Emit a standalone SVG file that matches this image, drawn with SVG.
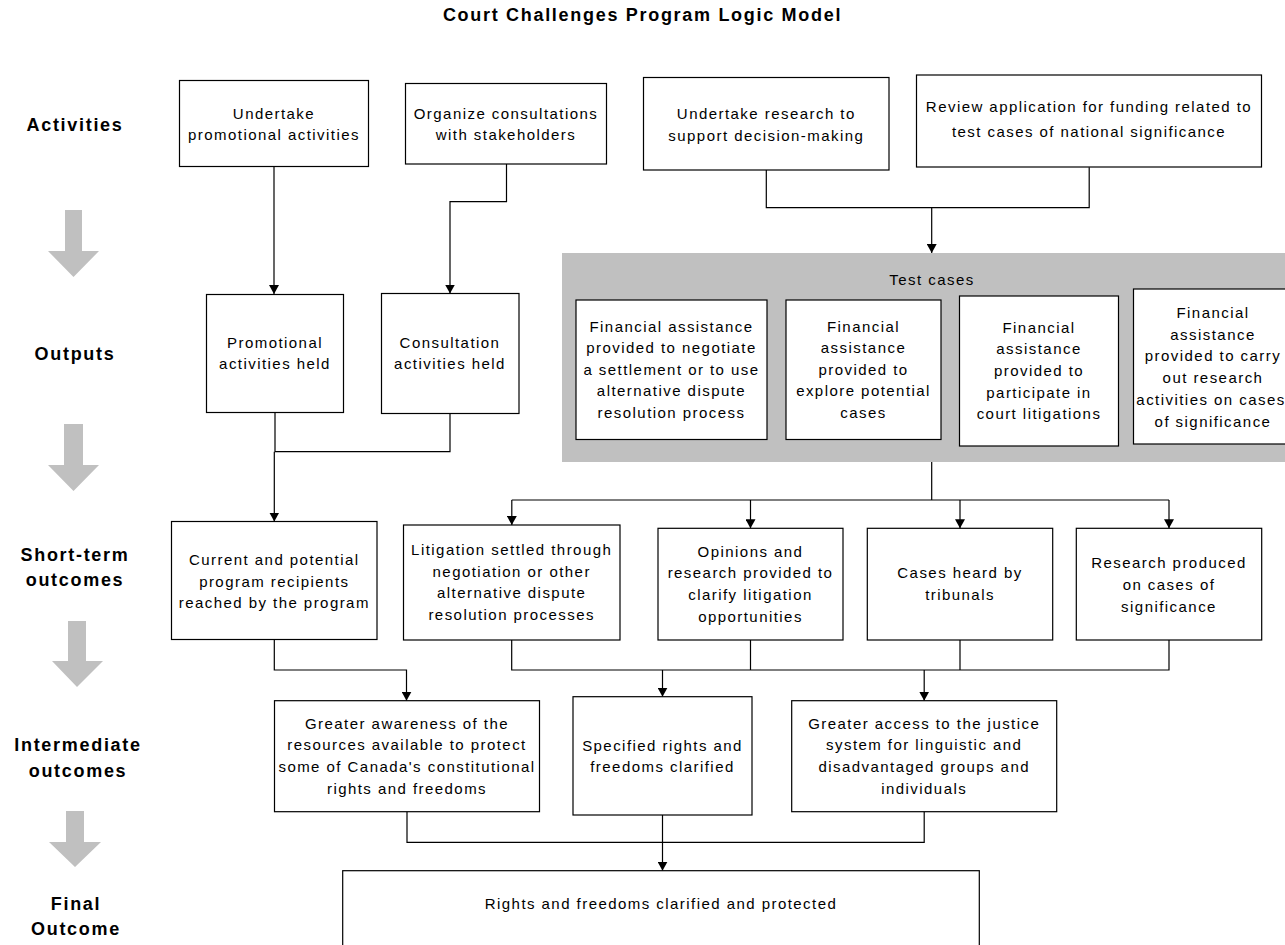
<svg xmlns="http://www.w3.org/2000/svg" width="1285" height="945" viewBox="0 0 1285 945">
<style>
.t{font-family:"Liberation Sans",Arial,sans-serif;font-size:15px;letter-spacing:1.45px;fill:#000;text-anchor:middle}
.lbl{font-family:"Liberation Sans",Arial,sans-serif;font-size:18px;font-weight:bold;letter-spacing:1.7px;fill:#000;text-anchor:middle}
.box{fill:#fff;stroke:#000;stroke-width:1.2}
.con{fill:none;stroke:#000;stroke-width:1.2}
.arr{fill:none;stroke:#000;stroke-width:1.2;marker-end:url(#ah)}
.big{fill:#c0c0c0}
</style>
<defs>
<marker id="ah" viewBox="0 0 9 10" refX="9" refY="5" markerWidth="9" markerHeight="10" markerUnits="userSpaceOnUse" orient="auto">
<path d="M0,0 L9,5 L0,10 z" fill="#000"/>
</marker>
</defs>
<rect width="1285" height="945" fill="#fff"/>
<text class="lbl" x="642.5" y="21">Court Challenges Program Logic Model</text>

<g id="stage-labels">
<text class="lbl" x="75" y="131">Activities</text>
<text class="lbl" x="75" y="360">Outputs</text>
<text class="lbl" x="75" y="561">Short-term</text>
<text class="lbl" x="75" y="586">outcomes</text>
<text class="lbl" x="78" y="751">Intermediate</text>
<text class="lbl" x="78" y="777">outcomes</text>
<text class="lbl" x="76" y="910">Final</text>
<text class="lbl" x="76" y="935">Outcome</text>
</g>

<g id="stage-arrows">
<polygon class="big" points="65,210 82,210 82,251 99,251 73.5,277 48,251 65,251"/>
<polygon class="big" points="64,424 83,424 83,465 99,465 73.5,491 48,465 64,465"/>
<polygon class="big" points="68,621 86,621 86,661 103,661 77,687 52,661 68,661"/>
<polygon class="big" points="66,811 84,811 84,842 101,842 75,867 49,842 66,842"/>
</g>

<g id="test-cases-group">
<rect class="big" x="562" y="253" width="730" height="209"/>
<text class="t" x="932" y="285">Test cases</text>
</g>

<g id="connectors">
<path class="arr" d="M274,166.7 V294"/>
<path class="arr" d="M506.5,164 V201.7 H450 V293.5"/>
<path class="con" d="M766.3,170 V207.7 H1089.2 V167.3"/>
<path class="arr" d="M931.7,207.7 V253"/>
<path class="con" d="M275,412.5 V451.7 H450 V413.5"/>
<path class="arr" d="M274.3,451.7 V521.5"/>
<path class="con" d="M931.7,462 V500 M511.8,500 H1169"/>
<path class="arr" d="M511.8,500 V525"/>
<path class="arr" d="M750.5,500 V528.3"/>
<path class="arr" d="M960,500 V528.3"/>
<path class="arr" d="M1169,500 V528.3"/>
<path class="arr" d="M274.3,639.5 V670 H406.5 V700.7"/>
<path class="con" d="M511.7,640 V670 H1169 V640 M750.5,640 V670 M960,640 V670"/>
<path class="arr" d="M662.5,670 V696.7"/>
<path class="arr" d="M924.2,670 V700.7"/>
<path class="con" d="M407,811.7 V842.3 H924.2 V811.7"/>
<path class="arr" d="M662.5,815 V870.7"/>
</g>

<g id="a1"><rect class="box" x="179.5" y="80.5" width="189" height="86"/>
<text class="t" x="274" y="118.5">Undertake</text><text class="t" x="274" y="140">promotional activities</text></g>
<g id="a2"><rect class="box" x="405.5" y="83.5" width="201" height="80.5"/>
<text class="t" x="506" y="118.5">Organize consultations</text><text class="t" x="506" y="140">with stakeholders</text></g>
<g id="a3"><rect class="box" x="643.5" y="77.5" width="245.5" height="92.5"/>
<text class="t" x="766.3" y="119">Undertake research to</text><text class="t" x="766.3" y="140.5">support decision-making</text></g>
<g id="a4"><rect class="box" x="916.5" y="75" width="345" height="92"/>
<text class="t" x="1089" y="112">Review application for funding related to</text><text class="t" x="1089" y="137">test cases of national significance</text></g>

<g id="o1"><rect class="box" x="206.5" y="294.5" width="137" height="118"/>
<text class="t" x="275" y="347.5">Promotional</text><text class="t" x="275" y="369">activities held</text></g>
<g id="o2"><rect class="box" x="381.5" y="293.5" width="137.5" height="120"/>
<text class="t" x="450" y="347.5">Consultation</text><text class="t" x="450" y="369">activities held</text></g>

<g id="tc1"><rect class="box" x="576" y="300" width="191" height="139.5"/>
<text class="t" x="671.5" y="331.5">Financial assistance</text>
<text class="t" x="671.5" y="353">provided to negotiate</text>
<text class="t" x="671.5" y="374.5">a settlement or to use</text>
<text class="t" x="671.5" y="396">alternative dispute</text>
<text class="t" x="671.5" y="417.5">resolution process</text></g>
<g id="tc2"><rect class="box" x="786" y="300" width="155" height="139.5"/>
<text class="t" x="863.5" y="331.5">Financial</text>
<text class="t" x="863.5" y="353">assistance</text>
<text class="t" x="863.5" y="374.5">provided to</text>
<text class="t" x="863.5" y="396">explore potential</text>
<text class="t" x="863.5" y="417.5">cases</text></g>
<g id="tc3"><rect class="box" x="959.5" y="296" width="159" height="150"/>
<text class="t" x="1039" y="332.6">Financial</text>
<text class="t" x="1039" y="354.3">assistance</text>
<text class="t" x="1039" y="376">provided to</text>
<text class="t" x="1039" y="397.7">participate  in</text>
<text class="t" x="1039" y="419.4">court litigations</text></g>
<g id="tc4"><rect class="box" x="1133.5" y="289" width="160" height="155"/>
<text class="t" x="1213" y="317.7">Financial</text>
<text class="t" x="1213" y="339.5">assistance</text>
<text class="t" x="1213" y="361.3">provided to carry</text>
<text class="t" x="1213" y="383">out research</text>
<text class="t" x="1211" y="404.8">activities on cases</text>
<text class="t" x="1213" y="426.6">of significance</text></g>

<g id="s1"><rect class="box" x="171.5" y="521.5" width="205.5" height="118"/>
<text class="t" x="274.3" y="565">Current and potential</text>
<text class="t" x="274.3" y="586.7">program recipients</text>
<text class="t" x="274.3" y="608.3">reached by the program</text></g>
<g id="s2"><rect class="box" x="403.5" y="525" width="216.5" height="115"/>
<text class="t" x="511.7" y="555">Litigation settled through</text>
<text class="t" x="511.7" y="576.7">negotiation or other</text>
<text class="t" x="511.7" y="598.3">alternative dispute</text>
<text class="t" x="511.7" y="620">resolution processes</text></g>
<g id="s3"><rect class="box" x="658" y="528.3" width="185" height="111.7"/>
<text class="t" x="750.5" y="556.5">Opinions and</text>
<text class="t" x="750.5" y="578.2">research provided to</text>
<text class="t" x="750.5" y="599.8">clarify litigation</text>
<text class="t" x="750.5" y="621.5">opportunities</text></g>
<g id="s4"><rect class="box" x="867.3" y="528.3" width="185.4" height="111.7"/>
<text class="t" x="960" y="578.2">Cases heard by</text>
<text class="t" x="960" y="599.8">tribunals</text></g>
<g id="s5"><rect class="box" x="1076.3" y="528.3" width="185.4" height="111.7"/>
<text class="t" x="1169" y="568.3">Research produced</text>
<text class="t" x="1169" y="590">on cases of</text>
<text class="t" x="1169" y="611.7">significance</text></g>

<g id="i1"><rect class="box" x="274.5" y="700.7" width="265" height="111"/>
<text class="t" x="407" y="728.6">Greater awareness of the</text>
<text class="t" x="407" y="750.3">resources available to protect</text>
<text class="t" x="407" y="772">some of Canada's constitutional</text>
<text class="t" x="407" y="793.7">rights and freedoms</text></g>
<g id="i2"><rect class="box" x="573" y="696.7" width="179" height="118.3"/>
<text class="t" x="662.5" y="750.5">Specified rights and</text>
<text class="t" x="662.5" y="772.2">freedoms clarified</text></g>
<g id="i3"><rect class="box" x="791.7" y="700.7" width="265" height="111"/>
<text class="t" x="924.2" y="728.6">Greater access to the justice</text>
<text class="t" x="924.2" y="750.3">system for linguistic and</text>
<text class="t" x="924.2" y="772">disadvantaged groups and</text>
<text class="t" x="924.2" y="793.7">individuals</text></g>

<g id="final"><rect class="box" x="342.7" y="870.7" width="636.6" height="90"/>
<text class="t" x="661" y="909">Rights and freedoms clarified and protected</text></g>
</svg>
